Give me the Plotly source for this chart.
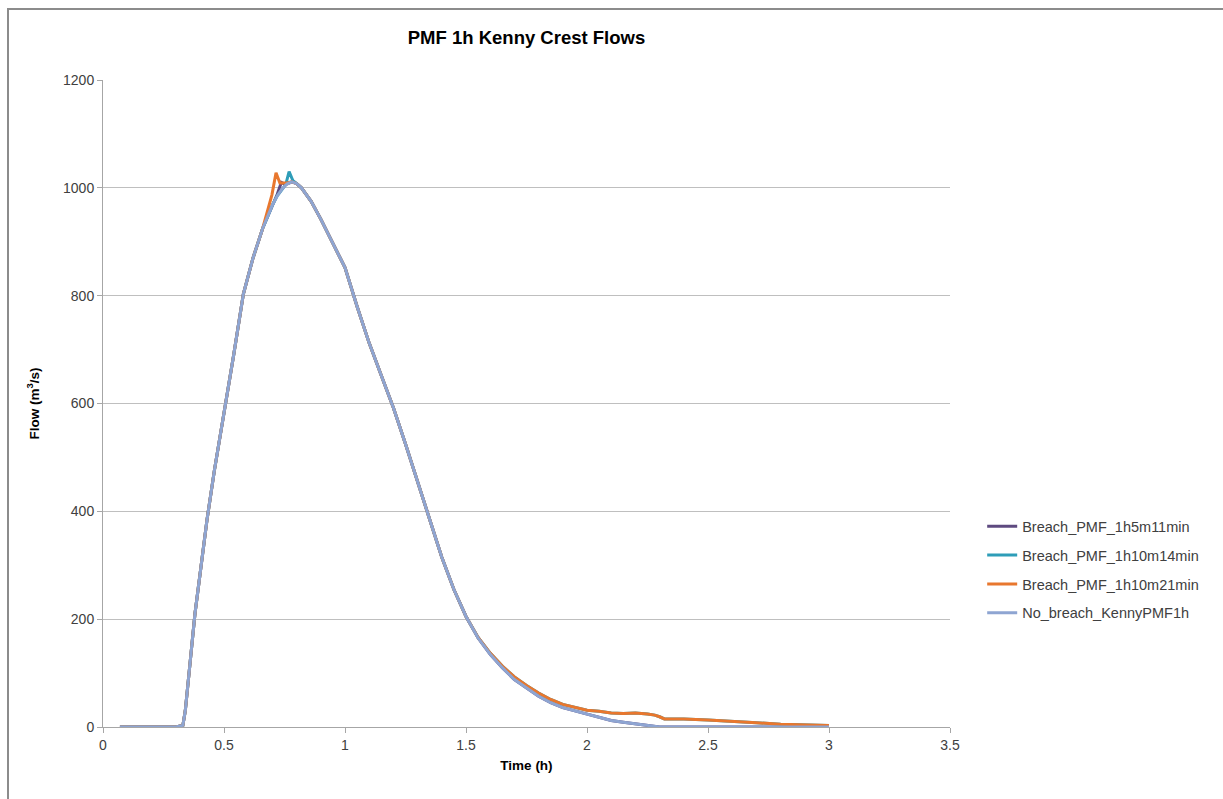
import plotly.graph_objects as go

# Time axis (hours) shared by the common part of all hydrographs
time_h = [0.07, 0.10, 0.15, 0.20, 0.25, 0.30, 0.33, 0.34, 0.36, 0.38, 0.40, 0.43, 0.46,
          0.50, 0.54, 0.58, 0.62, 0.66, 0.70, 0.72, 0.74, 0.76, 0.78, 0.80, 0.82, 0.86,
          0.90, 0.95, 1.00, 1.05, 1.10, 1.15, 1.20, 1.25, 1.30, 1.35, 1.40, 1.45, 1.50,
          1.55, 1.60, 1.65, 1.70, 1.75, 1.80, 1.85, 1.90, 1.95, 2.00, 2.05, 2.10, 2.15,
          2.20, 2.25, 2.28, 2.30, 2.32, 2.35, 2.40, 2.50, 2.60, 2.70, 2.80, 2.90, 3.00]

# No-breach crest flow (m3/s)
flow_no_breach = [0, 0, 0, 0, 0, 0, 3, 30, 120, 210, 280, 385, 475,
                  580, 690, 803, 870, 925, 968, 985, 998, 1007, 1011, 1008, 1000, 975,
                  942, 897, 852, 780, 712, 652, 592, 525, 457, 385, 315, 255, 205,
                  165, 135, 110, 88, 72, 57, 45, 36, 30, 24, 18, 12, 9,
                  6, 2, 1, 0, 0, 0, 0, 0, 0, 0, 0, 0, 0]

# Breach scenario 1h10m21min
time_b21 = [0.07, 0.20, 0.30, 0.33, 0.34, 0.36, 0.38, 0.40, 0.43, 0.46, 0.50, 0.54, 0.58,
            0.62, 0.66, 0.698, 0.715, 0.731, 0.76, 0.78, 0.80, 0.82, 0.86, 0.90, 0.95,
            1.00, 1.05, 1.10, 1.15, 1.20, 1.25, 1.30, 1.35, 1.40, 1.45, 1.50, 1.55, 1.60,
            1.65, 1.70, 1.75, 1.80, 1.85, 1.90, 1.95, 2.00, 2.05, 2.10, 2.15, 2.20, 2.25,
            2.28, 2.30, 2.32, 2.35, 2.40, 2.50, 2.60, 2.70, 2.80, 2.90, 3.00]
flow_b21 = [0, 0, 0, 3, 30, 120, 210, 280, 385, 475, 580, 690, 803,
            870, 925, 987, 1028, 1009, 1009, 1011, 1008, 1000, 975, 942, 897,
            852, 780, 712, 652, 592, 525, 457, 385, 315, 255, 205, 166, 137,
            113, 93, 77, 63, 51, 42, 36, 31, 29, 26, 25, 26, 24,
            22, 19, 15, 15, 15, 13, 11, 8, 5, 4, 3]

# Breach scenario 1h10m14min
time_b14 = [0.07, 0.20, 0.30, 0.33, 0.34, 0.36, 0.38, 0.40, 0.43, 0.46, 0.50, 0.54, 0.58,
            0.62, 0.66, 0.70, 0.72, 0.74, 0.755, 0.769, 0.785, 0.80, 0.82, 0.86, 0.90,
            0.95, 1.00, 1.05, 1.10, 1.15, 1.20, 1.25, 1.30, 1.35, 1.40, 1.45, 1.50, 1.55,
            1.60, 1.65, 1.70, 1.75, 1.80, 1.85, 1.90, 1.95, 2.00, 2.05, 2.10, 2.15, 2.20,
            2.25, 2.28, 2.30, 2.32, 2.35, 2.40, 2.50, 2.60, 2.70, 2.80, 2.90, 3.00]
flow_b14 = [0, 0, 0, 3, 30, 120, 210, 280, 385, 475, 580, 690, 803,
            870, 925, 968, 985, 998, 1006, 1030, 1013, 1008, 1000, 975, 942,
            897, 852, 780, 712, 652, 592, 525, 457, 385, 315, 255, 205, 166,
            137, 113, 93, 77, 63, 51, 42, 36, 31, 29, 26, 25, 26,
            24, 22, 19, 15, 15, 15, 13, 11, 8, 5, 4, 3]

# Breach scenario 1h5m11min
time_b11 = [0.07, 0.20, 0.30, 0.33, 0.34, 0.36, 0.38, 0.40, 0.43, 0.46, 0.50, 0.54, 0.58,
            0.62, 0.66, 0.70, 0.72, 0.737, 0.755, 0.78, 0.80, 0.82, 0.86, 0.90, 0.95,
            1.00, 1.05, 1.10, 1.15, 1.20, 1.25, 1.30, 1.35, 1.40, 1.45, 1.50, 1.55, 1.60,
            1.65, 1.70, 1.75, 1.80, 1.85, 1.90, 1.95, 2.00, 2.05, 2.10, 2.15, 2.20, 2.25,
            2.30, 2.35, 2.40, 2.50, 2.60, 2.70, 2.80, 2.90, 3.00]
flow_b11 = [0, 0, 0, 3, 30, 120, 210, 280, 385, 475, 580, 690, 803,
            870, 925, 968, 988, 1010, 1006, 1011, 1008, 1000, 975, 942, 897,
            852, 780, 712, 652, 592, 525, 457, 385, 315, 255, 205, 165, 135,
            110, 88, 72, 57, 45, 36, 30, 24, 18, 12, 9, 6, 2,
            0, 0, 0, 0, 0, 0, 0, 0, 0]

series = [
    ("Breach_PMF_1h5m11min", time_b11, flow_b11, "#5E4A80"),
    ("Breach_PMF_1h10m14min", time_b14, flow_b14, "#2E9DB8"),
    ("Breach_PMF_1h10m21min", time_b21, flow_b21, "#E8772E"),
    ("No_breach_KennyPMF1h", time_h, flow_no_breach, "#8EA5D2"),
]

fig = go.Figure()
for i, (name, t, q, col) in enumerate(series):
    fig.add_trace(go.Scatter(
        x=t, y=q, mode="lines", name=name, legendgroup=f"g{i}",
        line=dict(color=col, width=3),
    ))

font_main = "Liberation Sans, Arial, sans-serif"

fig.update_layout(
    width=1223, height=799,
    margin=dict(l=103, r=273, t=80, b=72),
    paper_bgcolor="white", plot_bgcolor="white",
    font=dict(family=font_main, size=14, color="#404040"),
    title=dict(text="<b>PMF 1h Kenny Crest Flows</b>", x=(103 + 950) / 2 / 1223,
               xanchor="center", y=1 - 38 / 799, yanchor="middle",
               font=dict(family=font_main, size=18.5, color="#000000")),
    showlegend=True,
    legend=dict(x=1.038, xanchor="left", y=0.243, yanchor="middle",
                traceorder="grouped", tracegroupgap=7,
                font=dict(family=font_main, size=14.5, color="#404040"),
                bgcolor="rgba(0,0,0,0)"),
    xaxis=dict(range=[0, 3.5], dtick=0.5, tick0=0, showgrid=False,
               showline=True, linecolor="#A6A6A6", linewidth=1,
               ticks="outside", ticklen=5, tickcolor="#A6A6A6",
               tickfont=dict(size=14, color="#404040"),
               title=dict(text="<b>Time (h)</b>", font=dict(size=13.5, color="#000000"),
                          standoff=8),
               zeroline=False),
    yaxis=dict(range=[0, 1200], dtick=200, showgrid=True, gridcolor="#BFBFBF",
               gridwidth=1, showline=True, linecolor="#A6A6A6", linewidth=1,
               ticks="outside", ticklen=5, tickcolor="#A6A6A6",
               tickfont=dict(size=14, color="#404040"),
               title=dict(text="<b>Flow (m<sup>3</sup>/s)</b>",
                          font=dict(size=13.5, color="#000000"), standoff=20),
               zeroline=False),
)

# chart frame (top and left edges visible)
fig.add_shape(type="rect", xref="paper", yref="paper",
              x0=(8 - 103) / 847, x1=(1240 - 103) / 847,
              y0=-0.2, y1=1 + (80 - 9) / 647,
              line=dict(color="#8C8C8C", width=2), layer="below")

fig.write_html("out.html")
